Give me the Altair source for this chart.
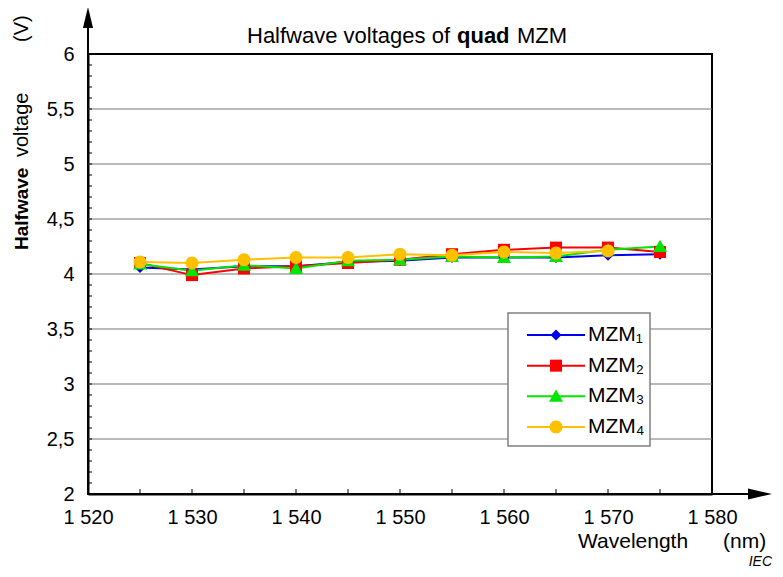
import altair as alt
import pandas as pd

# ---- data ----
wavelengths = [1525, 1530, 1535, 1540, 1545, 1550, 1555, 1560, 1565, 1570, 1575]
mzm1 = [4.06, 4.04, 4.07, 4.07, 4.11, 4.12, 4.15, 4.15, 4.15, 4.17, 4.18]
mzm2 = [4.10, 3.99, 4.05, 4.07, 4.10, 4.13, 4.18, 4.22, 4.24, 4.24, 4.20]
mzm3 = [4.09, 4.03, 4.08, 4.05, 4.12, 4.13, 4.16, 4.15, 4.16, 4.22, 4.25]
mzm4 = [4.11, 4.10, 4.13, 4.15, 4.15, 4.18, 4.17, 4.20, 4.19, 4.21, None]

series_names = ["MZM\u2081", "MZM\u2082", "MZM\u2083", "MZM\u2084"]
series_colors = ["#0000ee", "#ff0000", "#00e600", "#ffc000"]
marker_paths = [
    "M0,-1.1L1.1,0L0,1.1L-1.1,0Z",
    "M-1.2,-1.2H1.2V1.2H-1.2Z",
    "M0,-1.35L1.4,1.1L-1.4,1.1Z",
    "M1.3,0A1.3,1.3,0,1,1,-1.3,0A1.3,1.3,0,1,1,1.3,0Z",
]

x_label_values = [1520, 1530, 1540, 1550, 1560, 1570, 1580]
x_minor_ticks = [1525, 1530, 1535, 1540, 1545, 1550, 1555, 1560, 1565, 1570, 1575]
y_label_values = [2, 2.5, 3, 3.5, 4, 4.5, 5, 5.5, 6]
y_grid_values = [2.5, 3, 3.5, 4, 4.5, 5, 5.5]
y_minor_ticks = [round(2 + 0.1 * i, 1) for i in range(1, 40)]

FONT = "Liberation Sans"

rows = []
for name, vals in zip(series_names, [mzm1, mzm2, mzm3, mzm4]):
    for w, v in zip(wavelengths, vals):
        if v is not None:
            rows.append({"wl": w, "volt": v, "series": name})
df = pd.DataFrame(rows)
legend_df = pd.DataFrame({"series": series_names})

xscale = alt.Scale(domain=[1520, 1580], nice=False, zero=False)
yscale = alt.Scale(domain=[2, 6], nice=False, zero=False)

xaxis = alt.Axis(values=x_label_values, title=None, grid=False, ticks=False, tickSize=0,
                 labelExpr="'1 ' + substring(toString(datum.value), 1)",
                 labelFont=FONT, labelFontSize=20, labelColor="black", labelPadding=13,
                 labelFlush=False, labelOverlap=False,
                 domainColor="black", domainWidth=2)
yaxis = alt.Axis(values=y_label_values, title=None, grid=False, ticks=False, tickSize=0,
                 labelExpr="replace(toString(datum.value), '.', ',')",
                 labelFont=FONT, labelFontSize=20, labelColor="black", labelPadding=14,
                 labelFlush=False, labelOverlap=False,
                 domainColor="black", domainWidth=2)

color = alt.Color("series:N", scale=alt.Scale(domain=series_names, range=series_colors), legend=None)
shape = alt.Shape("series:N", scale=alt.Scale(domain=series_names, range=marker_paths), legend=None)

one = pd.DataFrame({"k": [0]})

grid = alt.Chart(pd.DataFrame({"v": y_grid_values})).mark_rule(color="#777777", strokeWidth=1.2).encode(
    y=alt.Y("v:Q", scale=yscale, axis=yaxis))

yticks = alt.Chart(pd.DataFrame({"v": y_minor_ticks})).mark_rule(color="black", strokeWidth=1).encode(
    y=alt.Y("v:Q", scale=yscale, axis=yaxis), x=alt.value(0), x2=alt.value(4))

xticks = alt.Chart(pd.DataFrame({"t": x_minor_ticks})).mark_rule(color="black", strokeWidth=1).encode(
    x=alt.X("t:Q", scale=xscale, axis=xaxis), y=alt.value(440), y2=alt.value(435))

lines = alt.Chart(df).mark_line(strokeWidth=2).encode(
    x=alt.X("wl:Q", scale=xscale, axis=xaxis),
    y=alt.Y("volt:Q", scale=yscale, axis=yaxis),
    color=color, order="wl:Q")

points = alt.Chart(df).mark_point(filled=True, opacity=1, size=100).encode(
    x=alt.X("wl:Q", scale=xscale, axis=xaxis),
    y=alt.Y("volt:Q", scale=yscale, axis=yaxis),
    color=color, shape=shape)

main = alt.layer(grid, yticks, xticks, lines, points)

# ---- legend (drawn from the series list through its own point scale) ----
leg_y = alt.Y("series:N", scale=alt.Scale(type="point", domain=series_names, range=[281, 373], padding=0),
              axis=None)
leg_box = alt.Chart(one).mark_rect(fill="white", stroke="#808080", strokeWidth=1.5).encode(
    x=alt.value(420), x2=alt.value(562), y=alt.value(259), y2=alt.value(392))
leg_lines = alt.Chart(legend_df).mark_rule(strokeWidth=2).encode(
    x=alt.value(439), x2=alt.value(497), y=leg_y, color=color)
leg_points = alt.Chart(legend_df).mark_point(filled=True, opacity=1, size=100).encode(
    x=alt.value(468), y=leg_y, color=color, shape=shape)
leg_labels = alt.Chart(legend_df).mark_text(align="left", baseline="middle", font=FONT, fontSize=21,
                                            color="black").encode(
    x=alt.value(500), y=leg_y, text="series:N")
legend_group = alt.layer(leg_box, leg_lines, leg_points, leg_labels)

# axis extensions and arrows
y_ext = alt.Chart(one).mark_rule(color="black", strokeWidth=2).encode(
    x=alt.value(0), y=alt.value(-26), y2=alt.value(0))
x_ext = alt.Chart(one).mark_rule(color="black", strokeWidth=2).encode(
    x=alt.value(624), x2=alt.value(662), y=alt.value(440))
y_arrow = alt.Chart(one).mark_point(shape="M0,-1L0.48,1L-0.48,1Z", filled=True, size=441,
                                    color="black", opacity=1).encode(x=alt.value(0), y=alt.value(-36.5))
x_arrow = alt.Chart(one).mark_point(shape="M1,0L-1,0.46L-1,-0.46Z", filled=True, size=576,
                                    color="black", opacity=1).encode(x=alt.value(672), y=alt.value(440))


def txt(text, x, y, size, weight="normal", align="left", angle=0, style="normal", baseline="middle"):
    return alt.Chart(one).mark_text(text=text, font=FONT, fontSize=size, fontWeight=weight,
                                    align=align, angle=angle, fontStyle=style, baseline=baseline,
                                    color="black").encode(x=alt.value(x), y=alt.value(y))


texts = [
    txt("Halfwave voltages of", 362, -18, 22, align="right"),
    txt("quad", 369, -18, 22, weight="bold"),
    txt("MZM", 429, -18, 22),
    txt("Halfwave", -66, 196, 19, weight="bold", angle=270),
    txt("voltage", -66, 103, 20, angle=270),
    txt("(V)", -66, -12, 20, angle=270),
    txt("Wavelength", 490, 488, 21),
    txt("(nm)", 635, 488, 21),
    txt("IEC", 684, 512, 14, align="right", style="italic", baseline="alphabetic"),
]

chart = alt.layer(main, legend_group, y_ext, x_ext, y_arrow, x_arrow, *texts).resolve_scale(
    y="independent"
).properties(
    width=624, height=440,
    autosize=alt.AutoSizeParams(type="none"),
    padding={"left": 80, "top": 46, "right": 63, "bottom": 75},
).configure_view(stroke="black", strokeWidth=2)

chart.save("out.html", embed_options={"renderer": "svg", "actions": False})
